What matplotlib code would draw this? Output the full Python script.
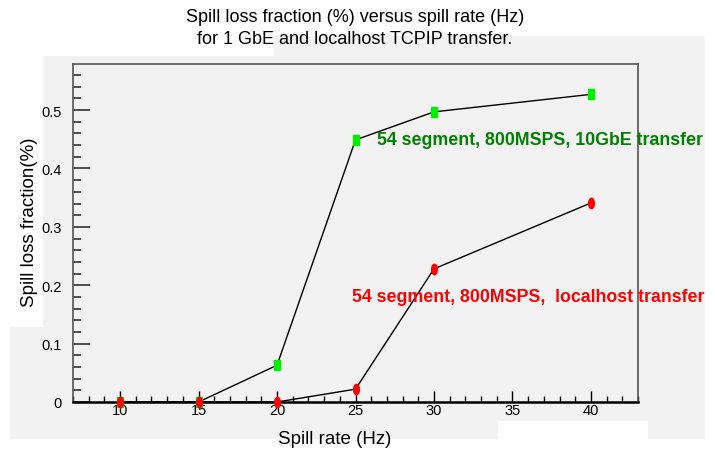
import matplotlib.pyplot as plt
from matplotlib.patches import Polygon, Rectangle
from matplotlib.markers import MarkerStyle
from matplotlib.transforms import Affine2D
from matplotlib.ticker import MultipleLocator, FixedLocator

# data
rate_10gbe = [10, 15, 20, 25, 30, 40]
loss_10gbe = [0.0, 0.0, 0.063, 0.449, 0.497, 0.527]
rate_local = [10, 15, 20, 25, 30, 40]
loss_local = [0.0, 0.0, 0.0, 0.022, 0.228, 0.341]
x_major = [10, 15, 20, 25, 30, 35, 40]
y_major = [0, 0.1, 0.2, 0.3, 0.4, 0.5]
y_labels = ["0", "0.1", "0.2", "0.3", "0.4", "0.5"]

plt.rcParams['font.family'] = ['Liberation Sans', 'DejaVu Sans']
bg = '#f2f2f2'

W, H = 715, 452
fig = plt.figure(figsize=(W / 100, H / 100), dpi=100)

# pasted-together background (pixel coords, y from top)
def px(pts):
    return [(x / W, 1 - y / H) for x, y in pts]

outline = [(274, 37), (705, 37), (705, 440), (10, 440), (10, 328),
           (43, 328), (43, 57), (274, 57)]
fig.patches.append(Polygon(px(outline), closed=True, transform=fig.transFigure,
                           facecolor=bg, edgecolor='none', zorder=-2))
fig.patches.append(Rectangle((498 / W, 0), 150 / W, (H - 422) / H,
                             transform=fig.transFigure, facecolor='white',
                             edgecolor='none', zorder=-1))

ax = fig.add_axes([73 / W, 1 - 403 / H, (638 - 73) / W, (403 - 65) / H])
ax.set_zorder(2)
ax.set_facecolor(bg)
ax.set_xlim(7, 43)
ax.set_ylim(0, 0.579)

# ROOT markers look squeezed sideways in the picture
sq = MarkerStyle('s', transform=Affine2D().scale(0.55, 1.0))
circ = MarkerStyle('o', transform=Affine2D().scale(0.55, 1.0))

ax.plot(rate_10gbe, loss_10gbe, color='black', lw=1, zorder=3)
ax.plot(rate_10gbe, loss_10gbe, ls='none', marker=sq, ms=7.5,
        color='#00ee00', mec='#00ee00', zorder=4, clip_on=False)
ax.plot(rate_local, loss_local, color='black', lw=1, zorder=3)
ax.plot(rate_local, loss_local, ls='none', marker=circ, ms=7.5,
        color='#ff0000', mec='#ff0000', zorder=5, clip_on=False)

ax.text(26.4, 0.449, "54 segment, 800MSPS, 10GbE transfer", color='#008000',
        fontsize=12.8, fontweight='bold', va='center', ha='left', clip_on=False)
ax.text(24.8, 0.180, "54 segment, 800MSPS,  localhost transfer", color='#ff0000',
        fontsize=12.8, fontweight='bold', va='center', ha='left', clip_on=False)

# ROOT-like axes
for side in ['top', 'right', 'left']:
    ax.spines[side].set_color('#555555')
    ax.spines[side].set_linewidth(1.2)
ax.spines['bottom'].set_color('black')
ax.spines['bottom'].set_linewidth(1.8)

ax.xaxis.set_major_locator(FixedLocator(x_major))
ax.xaxis.set_minor_locator(MultipleLocator(1))
ax.yaxis.set_major_locator(FixedLocator(y_major))
ax.set_yticklabels(y_labels)
ax.yaxis.set_minor_locator(MultipleLocator(0.02))

ax.tick_params(axis='x', which='major', direction='in', length=8, width=1,
               pad=1, labelsize=10.5, color='black')
ax.tick_params(axis='x', which='minor', direction='in', length=4.3, width=1,
               color='black')
ax.tick_params(axis='y', which='major', direction='in', length=12, width=1.2,
               pad=8, labelsize=10.5, color='#333333')
ax.tick_params(axis='y', which='minor', direction='in', length=5.8, width=1.2,
               color='#333333')

fig.text(355 / W, 1 - 18 / H, "Spill loss fraction (%) versus spill rate (Hz)",
         ha='center', va='center', fontsize=13)
fig.text(355 / W, 1 - 40 / H, "for 1 GbE and localhost TCPIP transfer.",
         ha='center', va='center', fontsize=13)
fig.text(335 / W, 1 - 440 / H, "Spill rate (Hz)", ha='center', va='center',
         fontsize=13.5)
fig.text(30 / W, 1 - 222 / H, "Spill loss fraction(%)", ha='center', va='center',
         rotation=90, fontsize=13.5)

fig.savefig('out.png', dpi=100, facecolor='white')
